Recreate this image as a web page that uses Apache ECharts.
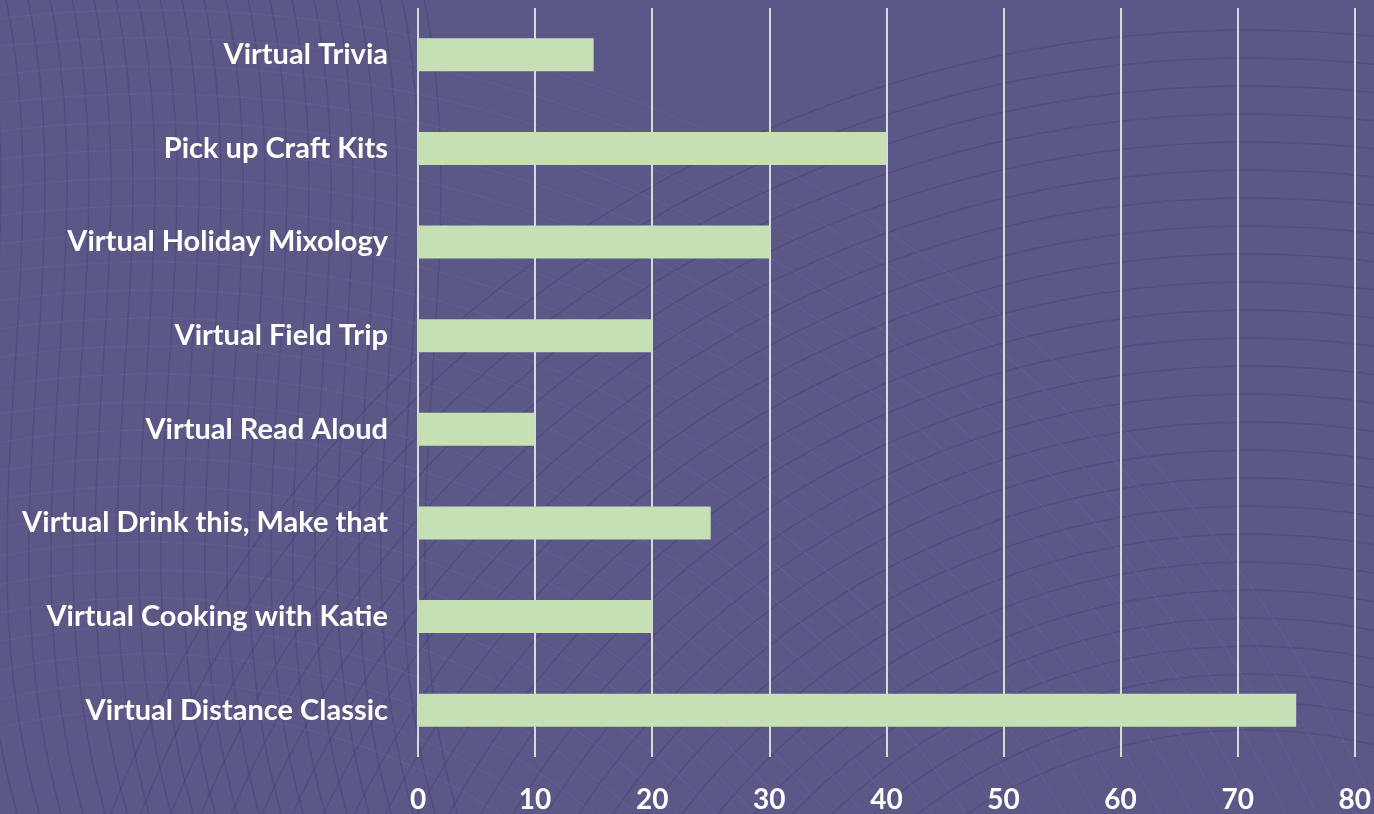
<!DOCTYPE html>
<html><head><meta charset="utf-8">
<script src="https://cdn.jsdelivr.net/npm/echarts@6/dist/echarts.min.js"></script>
<style>html,body{margin:0;padding:0;background:#5b5786}#c{width:1374px;height:814px}</style>
</head><body><div id="c"></div>
<script>
const categories = ["Virtual Distance Classic","Virtual Cooking with Katie","Virtual Drink this, Make that","Virtual Read Aloud","Virtual Field Trip","Virtual Holiday Mixology","Pick up Craft Kits","Virtual Trivia"];
const values = [75,20,25,10,20,30,40,15];

// decorative background curves (not data)
const deco = [];
for (let i = 0; i < 22; i++) {
  const x = -40 + i * 22;
  deco.push({type: 'bezierCurve', silent: true, z: -10,
    shape: {x1: x, y1: -10, cpx1: x + 60, cpy1: 260, cpx2: x - 50, cpy2: 540, x2: x + 40, y2: 830},
    style: {stroke: 'rgba(60,58,110,0.35)', lineWidth: 1.5, fill: null}});
}
for (let i = 0; i < 26; i++) {
  deco.push({type: 'circle', silent: true, z: -10,
    shape: {cx: 1250, cy: 1250, r: 520 + i * 28},
    style: {stroke: 'rgba(60,58,110,0.32)', lineWidth: 1.5, fill: null}});
  deco.push({type: 'circle', silent: true, z: -10,
    shape: {cx: 150, cy: 1350, r: 640 + i * 28},
    style: {stroke: 'rgba(112,108,162,0.28)', lineWidth: 1.5, fill: null}});
}

const chart = echarts.init(document.getElementById('c'));
chart.setOption({
  backgroundColor: '#5b5786',
  animation: false,
  graphic: {elements: deco},
  grid: {left: 418, right: 19, top: 8, bottom: 57},
  xAxis: {
    type: 'value', min: 0, max: 80, interval: 10,
    axisLine: {show: false}, axisTick: {show: false},
    splitLine: {show: true, lineStyle: {color: '#d9d9d9', width: 2}},
    axisLabel: {color: '#ffffff', fontFamily: 'Lato', fontWeight: 'bold', fontSize: 28, margin: 29}
  },
  yAxis: {
    type: 'category', data: categories,
    axisLine: {show: false}, axisTick: {show: false},
    axisLabel: {color: '#ffffff', fontFamily: 'Lato', fontWeight: 'bold', fontSize: 29, margin: 30}
  },
  series: [{type: 'bar', data: values, barWidth: 33, itemStyle: {color: '#c5e0b4'}}]
});
</script></body></html>
